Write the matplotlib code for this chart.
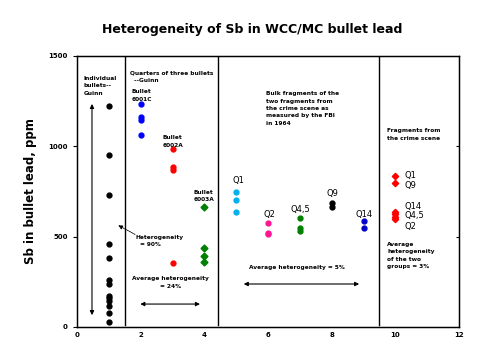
import matplotlib.pyplot as plt

# individual bullets (Guinn)
indiv_x = 1
indiv_sb = [1222, 950, 733, 461, 383, 262, 240, 170, 160, 145, 115, 75, 25]

# quarters of three bullets (Guinn)
b6001c = [1234, 1160, 1145, 1065]
b6002a = [985, 885, 870, 354]
b6003a = [664, 437, 393, 360]

# FBI 1964 quarters
fbi_labels = ['Q1', 'Q2', 'Q4,5', 'Q9', 'Q14']
fbi_x = [5, 6, 7, 8, 9]
fbi_sb = [[748, 703, 637], [575, 520, 512], [603, 548, 531], [686, 664], [586, 548]]
fbi_colors = ['#00b0f0', '#ff1493', '#008000', 'black', '#0000cc']

# crime scene fragments
frag_sb = [835, 797, 637, 625, 609, 598]
frag_labels = ['Q1', 'Q9', 'Q14', 'Q4,5', 'Q2']
frag_label_y = [840, 785, 665, 615, 555]

fig = plt.figure(figsize=(4.95, 3.58), dpi=100)
ax = fig.add_axes([0.1556, 0.0866, 0.7717, 0.757])

small = dict(fontsize=4.2, fontweight='bold', family='DejaVu Sans')

ax.plot([indiv_x] * len(indiv_sb), indiv_sb, 'o', color='black', ms=3.5)
ax.plot([2] * len(b6001c), b6001c, 'o', color='#0000ff', ms=3.5)
ax.plot([3] * len(b6002a), b6002a, 'o', color='#ff0000', ms=3.5)
ax.plot([4] * len(b6003a), b6003a, 'D', color='#008000', ms=3.5)
for x, ys, c in zip(fbi_x, fbi_sb, fbi_colors):
    ax.plot([x] * len(ys), ys, 'o', color=c, ms=3.5)
ax.plot([10] * len(frag_sb), frag_sb, 'D', color='#ff0000', ms=3.2)

for xv in [1.5, 4.44, 9.5]:
    ax.plot([xv, xv], [10, 1500], color='black', lw=1)

# text labels
ax.text(0.2, 1390, 'Individual\nbullets--\nGuinn', va='top', linespacing=1.6, **small)
ax.text(1.65, 1420, 'Quarters of three bullets\n  --Guinn', va='top', linespacing=1.6, **small)
ax.text(1.7, 1315, 'Bullet\n6001C', va='top', linespacing=1.6, **small)
ax.text(2.7, 1060, 'Bullet\n6002A', va='top', linespacing=1.6, **small)
ax.text(3.65, 760, 'Bullet\n6003A', va='top', linespacing=1.6, **small)
ax.text(1.85, 510, 'Heterogeneity\n  = 90%', va='top', linespacing=1.6, **small)
ax.text(2.95, 280, 'Average heterogeneity\n= 24%', va='top', ha='center',
        linespacing=1.6, multialignment='center', **small)
ax.text(5.95, 1305, 'Bulk fragments of the\ntwo fragments from\nthe crime scene as\nmeasured by the FBI\nin 1964',
        va='top', linespacing=1.6, **small)
ax.text(6.9, 330, 'Average heterogeneity = 5%', ha='center', va='center', **small)
ax.text(9.75, 1100, 'Fragments from\nthe crime scene', va='top', linespacing=1.6, **small)
ax.text(9.75, 470, 'Average\nheterogeneity\nof the two\ngroups = 3%', va='top', linespacing=1.6, **small)

fbi_label_pos = [(4.88, 810), (5.85, 625), (6.7, 650), (7.85, 740), (8.75, 625)]
for lab, (x, y) in zip(fbi_labels, fbi_label_pos):
    ax.text(x, y, lab, fontsize=6, family='DejaVu Sans', va='center')
for lab, y in zip(frag_labels, frag_label_y):
    ax.text(10.3, y, lab, fontsize=6, family='DejaVu Sans', va='center')

# arrows
arr = dict(arrowstyle='<|-|>', color='black', lw=0.8, mutation_scale=6)
ax.annotate('', xy=(0.47, 1250), xytext=(0.47, 50), arrowprops=arr)
ax.annotate('', xy=(1.9, 127), xytext=(3.95, 127), arrowprops=arr)
ax.annotate('', xy=(5.15, 238), xytext=(8.95, 238), arrowprops=arr)
ax.annotate('', xy=(1.22, 570), xytext=(1.9, 505),
            arrowprops=dict(arrowstyle='-|>', color='black', lw=0.6,
                            linestyle=(0, (2, 1)), mutation_scale=6))

ax.set_xlim(0, 12)
ax.set_ylim(0, 1500)
ax.set_xticks([0, 2, 4, 6, 8, 10, 12])
ax.set_yticks([0, 500, 1000, 1500])
ax.tick_params(axis='both', labelsize=5, length=3, width=0.8)
ax.tick_params(axis='x', length=0)
for lbl in ax.get_xticklabels() + ax.get_yticklabels():
    lbl.set_fontweight('bold')
ax2 = ax.twinx()
ax2.set_ylim(0, 1500)
ax2.set_yticks([500, 1000])
ax2.tick_params(axis='y', direction='in', length=2.5, labelright=False)

for sp in ax.spines.values():
    sp.set_linewidth(1)

ax.set_ylabel('Sb in bullet lead, ppm', fontsize=8.5, fontweight='bold', labelpad=8)
fig.suptitle('Heterogeneity of Sb in WCC/MC bullet lead', fontsize=9, fontweight='bold',
             x=0.51, y=0.935)

fig.savefig('out.png', dpi=100)
